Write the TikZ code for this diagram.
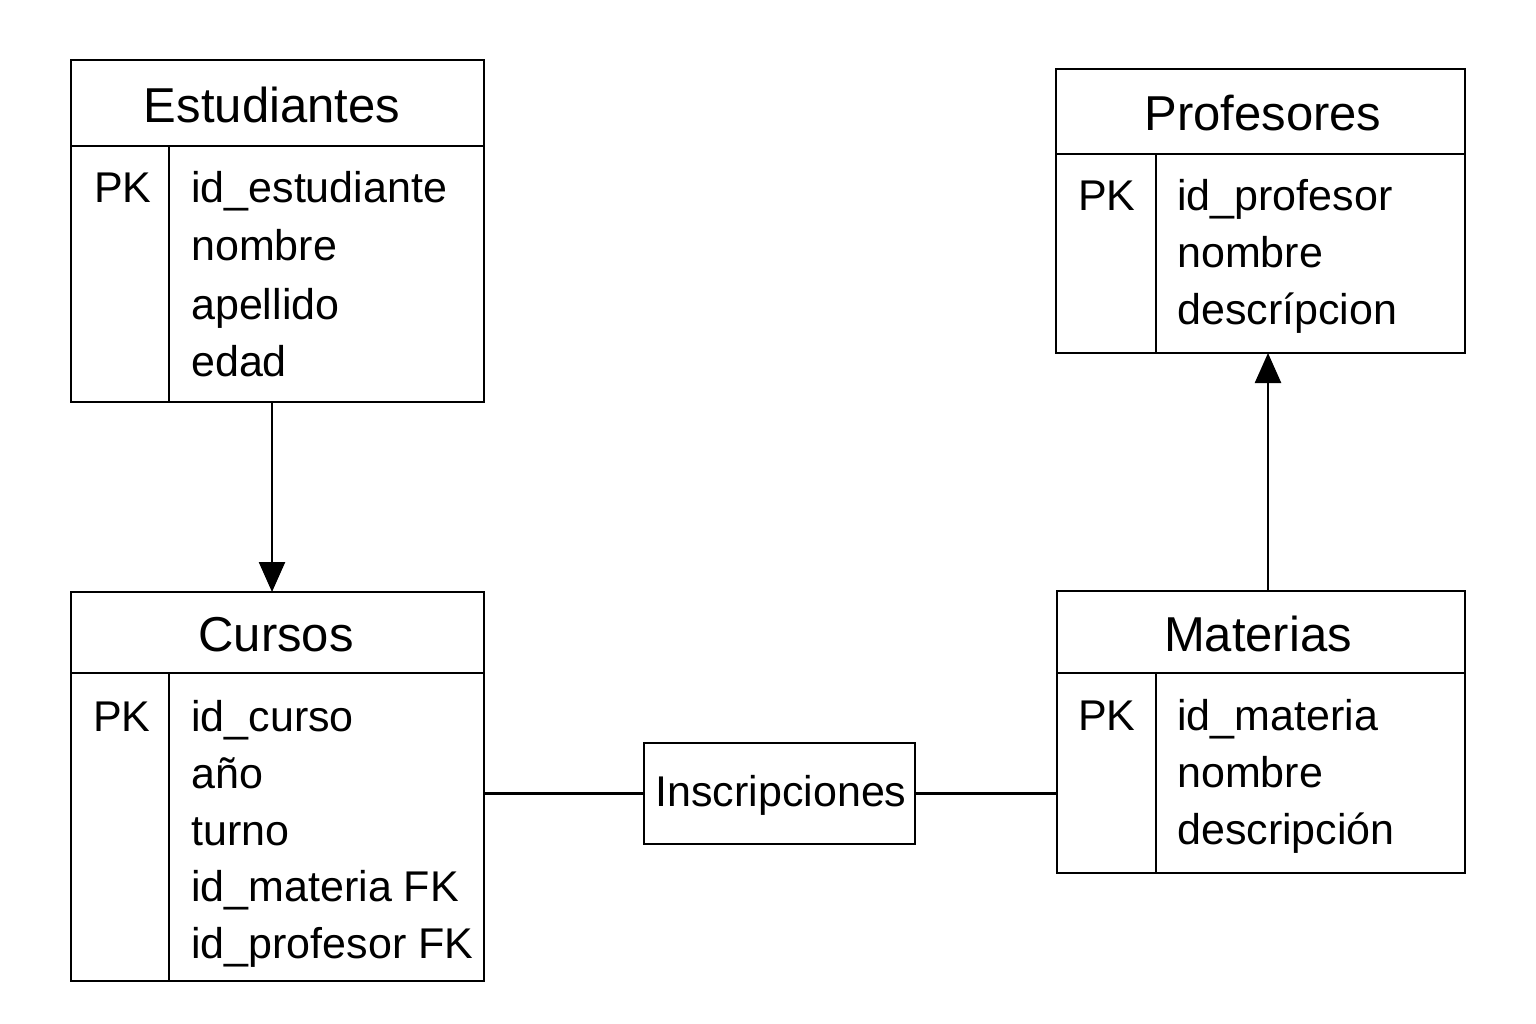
\documentclass[tikz,border=0pt]{standalone}
\usepackage{fontspec}
\setmainfont{Liberation Sans}
\usetikzlibrary{arrows.meta}
\begin{document}
\begin{tikzpicture}[x=1pt,y=-1pt,line width=2.5pt,
  tbl/.style={draw,rectangle,inner sep=0pt,outer sep=0pt},
  ttl/.style={anchor=base,inner sep=0pt,font=\fontsize{49}{50}\selectfont},
  fld/.style={anchor=base west,inner sep=0pt,font=\fontsize{43}{44}\selectfont},
  conn/.style={-{Triangle[length=30pt,width=26pt]}}]
\useasboundingbox (0,0) rectangle (1536,1024);
% Estudiantes
\node[tbl,minimum width=413pt,minimum height=342pt] (est) at (277.5,231) {};
\draw (71,146) -- (484,146);
\draw (169,146) -- (169,402);
\node[ttl] (estT) at (272,123) {Estudiantes};
\node[fld] (estPK) at (93,203) {PK};
\node[fld] (est1) at (190,203) {id\_estudiante};
\node[fld] (est2) at (190,261) {nombre};
\node[fld] (est3) at (190,319) {apellido};
\node[fld] (est4) at (190,376) {edad};
% Profesores
\node[tbl,minimum width=409pt,minimum height=284pt] (pro) at (1260.5,211) {};
\draw (1056,154) -- (1465,154);
\draw (1156,154) -- (1156,353);
\node[ttl] (proT) at (1263,131) {Profesores};
\node[fld] (proPK) at (1077,211) {PK};
\node[fld] (pro1) at (1176,211) {id\_profesor};
\node[fld] (pro2) at (1176,268) {nombre};
\node[fld] (pro3) at (1176,324) {descrípcion};
% Cursos
\node[tbl,minimum width=413pt,minimum height=389pt] (cur) at (277.5,786.5) {};
\draw (71,673) -- (484,673);
\draw (169,673) -- (169,981);
\node[ttl] (curT) at (276,651) {Cursos};
\node[fld] (curPK) at (92,731) {PK};
\node[fld] (cur1) at (190,731) {id\_curso};
\node[fld] (cur2) at (190,788) {año};
\node[fld] (cur3) at (190,845) {turno};
\node[fld] (cur4) at (190,901) {id\_materia FK};
\node[fld] (cur5) at (190,958) {id\_profesor FK};
% Materias
\node[tbl,minimum width=408pt,minimum height=282pt] (mat) at (1261,732) {};
\draw (1057,673) -- (1465,673);
\draw (1156,673) -- (1156,873);
\node[ttl] (matT) at (1258,651) {Materias};
\node[fld] (matPK) at (1077,730) {PK};
\node[fld] (mat1) at (1176,730) {id\_materia};
\node[fld] (mat2) at (1176,787) {nombre};
\node[fld] (mat3) at (1176,844) {descripción};
% Inscripciones
\node[tbl,minimum width=271pt,minimum height=101pt] (ins) at (779.5,793.5) {};
\node[fld,anchor=base] (insT) at (781,806) {Inscripciones};
% connectors
\draw[conn] ([xshift=-5.5pt]est.south) -- ([xshift=-5.5pt]cur.north);
\draw[conn] ([xshift=7pt]mat.north) -- ([xshift=7pt]mat.north |- pro.south);
\draw (cur.east |- ins.west) -- (ins.west);
\draw (ins.east) -- (mat.west |- ins.east);
\end{tikzpicture}
\end{document}
